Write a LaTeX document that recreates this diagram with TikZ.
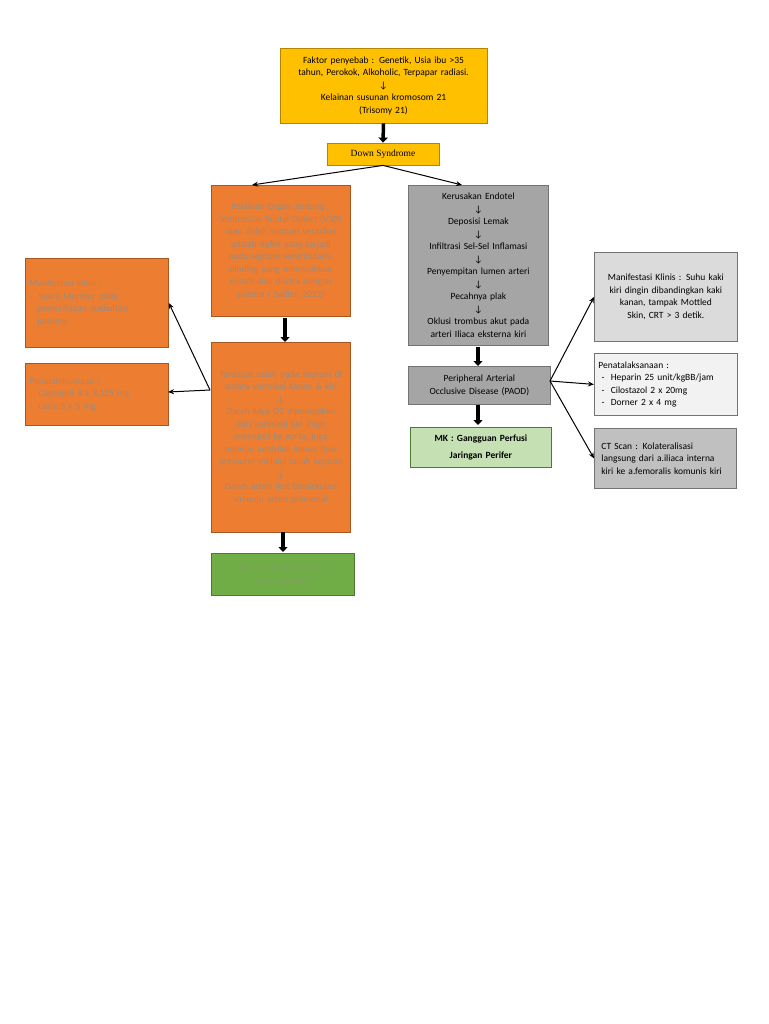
\documentclass[tikz,border=0pt]{standalone}
\usepackage{fontspec}
\setmainfont{Carlito}
\newfontfamily\timesf{Liberation Serif}
\usetikzlibrary{arrows.meta}
\hyphenpenalty=10000
\exhyphenpenalty=10000
\definecolor{yel}{HTML}{FFC000}
\definecolor{org}{HTML}{ED7D31}
\definecolor{orgtxt}{HTML}{A08A78}
\definecolor{grn}{HTML}{70AD47}
\definecolor{lgrn}{HTML}{C5E0B3}
\definecolor{gry}{HTML}{A5A5A5}
\begin{document}
\begin{tikzpicture}[x=1pt,y=-1pt,
 box/.style={draw=#1!70!black,line width=0.8pt,inner sep=2pt,align=center,font=\fontsize{9.5}{12.5}\selectfont},
 thick arr/.style={-{Triangle[length=5pt,width=9pt]},line width=3.5pt},
 thin arr/.style={-{Stealth[length=6pt,width=5pt]},line width=1pt}]
\useasboundingbox (0,0) rectangle (768,1024);
\fill[white] (0,0) rectangle (768,1024);
% top
\node[box=yel,fill=yel,minimum width=207pt,minimum height=75pt,text width=200pt] (top) at (383.5,85.5) {Faktor penyebab : Genetik, Usia ibu >35 tahun, Perokok, Alkoholic, Terpapar radiasi.\\↓\\Kelainan susunan kromosom 21\\(Trisomy 21)};
\node[box=yel,fill=yel,minimum width=112pt,minimum height=22pt,font=\timesf\fontsize{9.5}{10}\selectfont] (ds) at (383,154) {Down Syndrome};
\draw[thick arr] (top.south) -- (ds.north);
% left column
\node[box=org,fill=org,text=orgtxt,minimum width=139pt,minimum height=131pt,text width=130pt,anchor=north west] (o1) at (211,185) {Kelainan Organ Jantung : Ventricular Septal Defect (VSD) atau defek septum ventrikel adalah defek yang terjadi pada septum ventricularis, dinding yang memisahkan ventriculus dextra dengan sinistra ( Sadler, 2012)};
\node[box=org,fill=org,text=orgtxt,minimum width=139pt,minimum height=190pt,text width=130pt,anchor=north west] (o2) at (211,342) {Terdapat celah pada septum di antara ventrikel kanan \& kiri\\↓\\Darah kaya O2 dipompakan dari ventrikel kiri (high pressure) ke aorta, juga menuju ventrikel kanan (low pressure) melalui celah septum\\↓\\Darah arteri ikut bersirkulasi menuju arteri pulmonal\\[22pt]};
\node[box=grn,fill=grn,text=orgtxt!80!green,minimum width=143pt,minimum height=42pt,text width=130pt,anchor=north west] (g1) at (211,553) {MK : Risiko Penurunan Curah Jantung};
\draw[thick arr] (285,318) -- (o2.north -| 285,0);
\draw[thick arr] (283,532) -- (283,552);
\node[box=org,fill=org,text=orgtxt,minimum width=143pt,minimum height=89pt,text width=135pt,anchor=north west,align=left] (l1) at (25,258) {Manifestasi klinis :\\- \ Suara Murmur pada\\\hspace*{8pt}pemeriksaan auskultasi\\\hspace*{8pt}jantung};
\node[box=org,fill=org,text=orgtxt,minimum width=143pt,minimum height=62pt,text width=135pt,anchor=north west,align=left] (l2) at (25,363) {Penatalaksanaan :\\- \ Captopril 3 x 3,125 mg\\- \ Lasix 3 x 5 mg};
\coordinate (o2l) at (210,390);
\draw[thin arr] (o2l) -- (l1.east);
\draw[thin arr] (o2l) -- (168,392);
% right column
\node[box=gry,fill=gry,minimum width=140pt,minimum height=160pt,text width=135pt,anchor=north west] (g2) at (408,185) {Kerusakan Endotel\\↓\\Deposisi Lemak\\↓\\Infiltrasi Sel-Sel Inflamasi\\↓\\Penyempitan lumen arteri\\↓\\Pecahnya plak\\↓\\Oklusi trombus akut pada arteri Iliaca eksterna kiri\\[4pt]};
\node[box=gry,fill=gry,minimum width=142pt,minimum height=38pt,text width=135pt,anchor=north west] (paod) at (408,366) {Peripheral Arterial Occlusive Disease (PAOD)};
\node[box=grn,fill=lgrn,minimum width=141pt,minimum height=40pt,text width=135pt,anchor=north west,font=\bfseries\fontsize{9.5}{17}\selectfont] (mk2) at (410,427) {MK : Gangguan Perfusi\\Jaringan Perifer};
\draw[thick arr] (478,347) -- (paod.north -| 478,0);
\draw[thick arr] (478,405) -- (478,425);
\draw[thin arr] (ds.south) -- (o1.north -| 252,0);
\draw[thin arr] (ds.south) -- (g2.north -| 462,0);
\node[box=gry,fill=gry!40,minimum width=143pt,minimum height=89pt,text width=128pt,anchor=north west] (r1) at (594,252) {Manifestasi Klinis : Suhu kaki kiri dingin dibandingkan kaki kanan, tampak Mottled Skin, CRT > 3 detik.};
\node[box=gry,fill=gry!15,minimum width=143pt,minimum height=62pt,text width=135pt,anchor=north west,align=left] (r2) at (594,353) {Penatalaksanaan :\\\ - \ Heparin 25 unit/kgBB/jam\\\ - \ Cilostazol 2 x 20mg\\\ - \ Dorner 2 x 4 mg};
\node[box=gry,fill=gry!70,minimum width=142pt,minimum height=60pt,text width=128pt,anchor=north west,align=left] (r3) at (594,428) {CT Scan : Kolateralisasi langsung dari a.iliaca interna kiri ke a.femoralis komunis kiri};
\coordinate (pr) at (550,381);
\draw[thin arr] (pr) -- (r1.west);
\draw[thin arr] (pr) -- (r2.west);
\draw[thin arr] (pr) -- (r3.west);
\end{tikzpicture}
\end{document}
